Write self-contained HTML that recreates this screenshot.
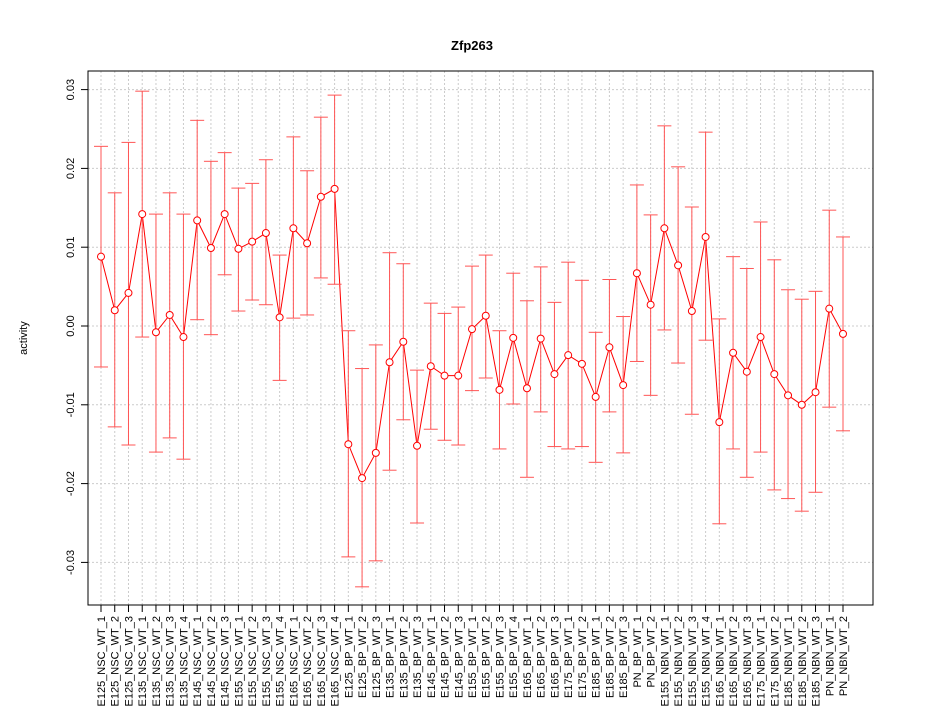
<!DOCTYPE html>
<html><head><meta charset="utf-8"><style>
html,body{margin:0;padding:0;background:#fff;}
svg text{font-family:"Liberation Sans",sans-serif;}
</style></head><body>
<svg id="chart" width="945" height="720" xmlns="http://www.w3.org/2000/svg">
<rect x="0" y="0" width="945" height="720" fill="#fff"/>
<text x="472" y="50" font-size="13" font-weight="bold" text-anchor="middle">Zfp263</text>
<text x="27" y="338" font-size="11" text-anchor="middle" transform="rotate(-90 27 338)">activity</text>
<g id="grid"></g>
<g id="marks"></g>
<rect x="88" y="71" width="785" height="534" fill="none" stroke="#000" stroke-width="1"/>
<g id="axes"></g>
</svg>
<script>
const categories=["E125_NSC_WT_1","E125_NSC_WT_2","E125_NSC_WT_3","E135_NSC_WT_1","E135_NSC_WT_2","E135_NSC_WT_3","E135_NSC_WT_4","E145_NSC_WT_1","E145_NSC_WT_2","E145_NSC_WT_3","E155_NSC_WT_1","E155_NSC_WT_2","E155_NSC_WT_3","E155_NSC_WT_4","E165_NSC_WT_1","E165_NSC_WT_2","E165_NSC_WT_3","E165_NSC_WT_4","E125_BP_WT_1","E125_BP_WT_2","E125_BP_WT_3","E135_BP_WT_1","E135_BP_WT_2","E135_BP_WT_3","E145_BP_WT_1","E145_BP_WT_2","E145_BP_WT_3","E155_BP_WT_1","E155_BP_WT_2","E155_BP_WT_3","E155_BP_WT_4","E165_BP_WT_1","E165_BP_WT_2","E165_BP_WT_3","E175_BP_WT_1","E175_BP_WT_2","E185_BP_WT_1","E185_BP_WT_2","E185_BP_WT_3","PN_BP_WT_1","PN_BP_WT_2","E155_NBN_WT_1","E155_NBN_WT_2","E155_NBN_WT_3","E155_NBN_WT_4","E165_NBN_WT_1","E165_NBN_WT_2","E165_NBN_WT_3","E175_NBN_WT_1","E175_NBN_WT_2","E185_NBN_WT_1","E185_NBN_WT_2","E185_NBN_WT_3","PN_NBN_WT_1","PN_NBN_WT_2"];
const values=[0.0088,0.0020,0.0042,0.0142,-0.0008,0.0014,-0.0014,0.0134,0.0099,0.0142,0.0098,0.0107,0.0118,0.0011,0.0124,0.0105,0.0164,0.0174,-0.0150,-0.0193,-0.0161,-0.0046,-0.0020,-0.0152,-0.0051,-0.0063,-0.0063,-0.0004,0.0013,-0.0081,-0.0015,-0.0079,-0.0016,-0.0061,-0.0037,-0.0048,-0.0090,-0.0027,-0.0075,0.0067,0.0027,0.0124,0.0077,0.0019,0.0113,-0.0122,-0.0034,-0.0058,-0.0014,-0.0061,-0.0088,-0.0100,-0.0084,0.0022,-0.0010];
const upper=[0.0228,0.0169,0.0233,0.0298,0.0142,0.0169,0.0142,0.0261,0.0209,0.0220,0.0175,0.0181,0.0211,0.0090,0.0240,0.0197,0.0265,0.0293,-0.0006,-0.0054,-0.0024,0.0093,0.0079,-0.0056,0.0029,0.0016,0.0024,0.0076,0.0090,-0.0006,0.0067,0.0032,0.0075,0.0030,0.0081,0.0058,-0.0008,0.0059,0.0012,0.0179,0.0141,0.0254,0.0202,0.0151,0.0246,0.0009,0.0088,0.0073,0.0132,0.0084,0.0046,0.0034,0.0044,0.0147,0.0113];
const lower=[-0.0052,-0.0128,-0.0151,-0.0014,-0.0160,-0.0142,-0.0169,0.0008,-0.0011,0.0065,0.0019,0.0033,0.0027,-0.0069,0.0010,0.0014,0.0061,0.0053,-0.0293,-0.0331,-0.0298,-0.0183,-0.0119,-0.0250,-0.0131,-0.0145,-0.0151,-0.0082,-0.0066,-0.0156,-0.0099,-0.0192,-0.0109,-0.0153,-0.0156,-0.0153,-0.0173,-0.0109,-0.0161,-0.0045,-0.0088,-0.0005,-0.0047,-0.0112,-0.0018,-0.0251,-0.0156,-0.0192,-0.0160,-0.0208,-0.0219,-0.0235,-0.0211,-0.0103,-0.0133];
const yTicks=[-0.03,-0.02,-0.01,0.00,0.01,0.02,0.03];
const yTickLabels=["-0.03","-0.02","-0.01","0.00","0.01","0.02","0.03"];

const NS="http://www.w3.org/2000/svg";
function xs(i){return 101+i*(843-101)/(categories.length-1);}
function ys(v){return 326-v*7880;}
function mk(parent,tag,attrs){const e=document.createElementNS(NS,tag);for(const k in attrs)e.setAttribute(k,attrs[k]);parent.appendChild(e);return e;}
const grid=document.getElementById('grid'),marks=document.getElementById('marks'),axes=document.getElementById('axes');
categories.forEach((c,i)=>{
  const g=mk(grid,'line',{x1:xs(i),x2:xs(i),y1:71,y2:605,stroke:'#ccc','stroke-dasharray':'2,2'});
  
  
  const t=mk(axes,'line',{x1:xs(i),x2:xs(i),y1:605,y2:612,stroke:'#000'});
  
  
  const tx=xs(i)+4, ty=616;
  const l=mk(axes,'text',{x:tx,y:ty,'font-size':'11','text-anchor':'end',transform:`rotate(-90 ${tx} ${ty})`});
  l.textContent=c;
  
  
});
yTicks.forEach((v,i)=>{
  const g=mk(grid,'line',{x1:88,x2:873,y1:ys(v),y2:ys(v),stroke:'#ccc','stroke-dasharray':'2,2'});
  
  
  const t=mk(axes,'line',{x1:81,x2:88,y1:ys(v),y2:ys(v),stroke:'#000'});
  
  
  const tx=74, ty=ys(v);
  const l=mk(axes,'text',{x:tx,y:ty,'font-size':'11','text-anchor':'middle',transform:`rotate(-90 ${tx} ${ty})`});
  l.textContent=yTickLabels[i];
  
  
});
let pts=values.map((v,i)=>xs(i)+','+ys(v)).join(' ');
const pl=mk(marks,'polyline',{points:pts,fill:'none',stroke:'#f00','stroke-width':'1'});


values.forEach((v,i)=>{
  const x=xs(i);
  const b=mk(marks,'line',{x1:x,x2:x,y1:ys(upper[i]),y2:ys(lower[i]),stroke:'#f55','stroke-width':'1'});
  
  
  const cu=mk(marks,'line',{x1:x-7,x2:x+7,y1:ys(upper[i]),y2:ys(upper[i]),stroke:'#f55','stroke-width':'1'});
  
  
  const cl=mk(marks,'line',{x1:x-7,x2:x+7,y1:ys(lower[i]),y2:ys(lower[i]),stroke:'#f55','stroke-width':'1'});
  
  
  const p=mk(marks,'circle',{cx:x,cy:ys(v),r:3.5,fill:'#fff',stroke:'#f00','stroke-width':'1'});
  
  
});
</script>
</body></html>
